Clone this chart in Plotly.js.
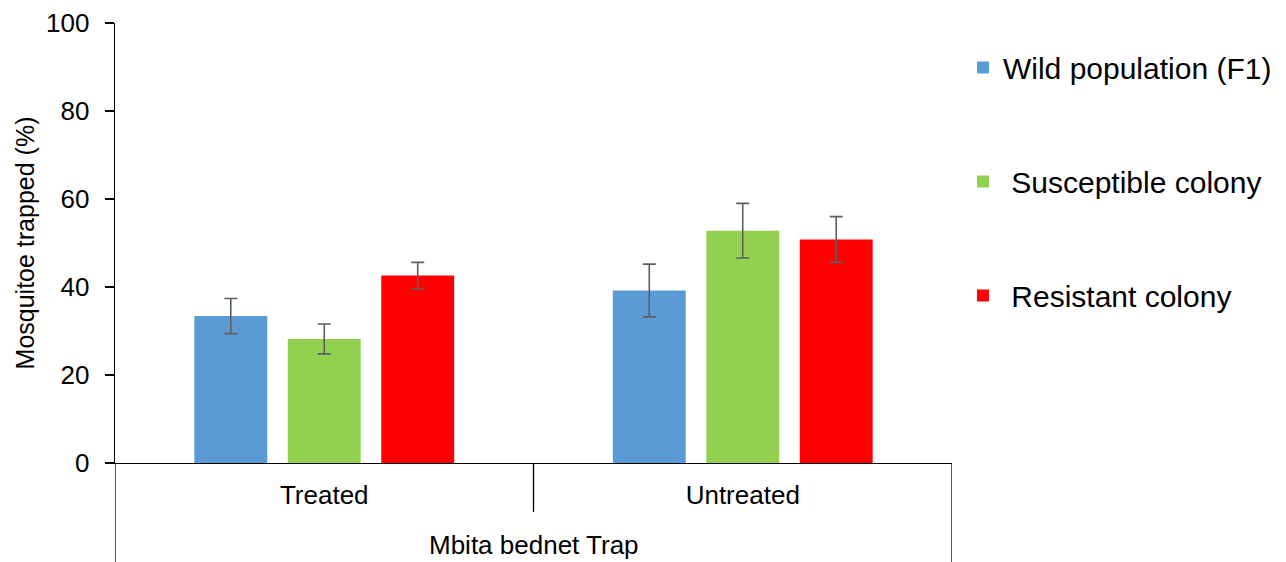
<!DOCTYPE html>
<html>
<head>
<meta charset="utf-8">
<script src="https://cdn.plot.ly/plotly-3.0.1.min.js"></script>
<style>html,body{margin:0;padding:0;background:#fff;}#chart{width:1286px;height:562px;}</style>
</head>
<body>
<div id="chart"></div>
<script>
var categories = ["Treated", "Untreated"];
var groupLabel = "Mbita bednet Trap";
var seriesNames = ["Wild population (F1)", "\u00a0Susceptible colony", "\u00a0Resistant colony"];
var wildValues = [33.4, 39.2];
var wildErrors = [4.0, 6.0];
var suscValues = [28.2, 52.8];
var suscErrors = [3.4, 6.2];
var resValues = [42.6, 50.8];
var resErrors = [3.0, 5.2];
var colors = ["#5B9BD5", "#92D050", "#FF0000"];
var yTicks = [0, 20, 40, 60, 80, 100];

var font = "Arial, 'Liberation Sans', sans-serif";
var vals = [wildValues, suscValues, resValues];
var errs = [wildErrors, suscErrors, resErrors];

var data = vals.map(function (v, i) {
  return {
    type: "bar",
    x: categories,
    y: v,
    name: seriesNames[i],
    legendgroup: "g" + i,
    marker: { color: colors[i] },
    error_y: { type: "data", array: errs[i], visible: true, color: "#5f5f5f", thickness: 1.6, width: 6.5 }
  };
});

var shapes = [
  { type: "line", xref: "x", yref: "paper", x0: -0.5, x1: -0.5, y0: 0, y1: -0.23, line: { color: "#000", width: 1.3 } },
  { type: "line", xref: "x", yref: "paper", x0: 0.5, x1: 0.5, y0: 0, y1: -0.111, line: { color: "#000", width: 1.3 } },
  { type: "line", xref: "x", yref: "paper", x0: 1.5, x1: 1.5, y0: 0, y1: -0.23, line: { color: "#000", width: 1.3 } }
];

var layout = {
  width: 1286,
  height: 562,
  margin: { l: 115, r: 334, t: 23, b: 99, autoexpand: false },
  paper_bgcolor: "#fff",
  plot_bgcolor: "#fff",
  font: { family: font, color: "#000" },
  barmode: "group",
  bargap: 0.33,
  bargroupgap: 0.22,
  showlegend: true,
  legend: {
    x: 1.0131, xanchor: "left", y: 0.958, yanchor: "top",
    font: { size: 30, family: font, color: "#000" },
    tracegroupgap: 72,
    bgcolor: "rgba(0,0,0,0)"
  },
  xaxis: {
    type: "category",
    range: [-0.5, 1.5],
    showline: true, linecolor: "#000", linewidth: 1.3,
    ticks: "", showgrid: false, zeroline: false,
    tickfont: { size: 26, family: font, color: "#000" },
    ticklabelstandoff: 8,
    automargin: false,
    fixedrange: true
  },
  yaxis: {
    range: [0, 100],
    tickvals: yTicks,
    ticktext: yTicks.map(String),
    showline: true, linecolor: "#000", linewidth: 1.3,
    ticks: "outside", ticklen: 9, tickcolor: "#000", tickwidth: 1.3,
    showgrid: false, zeroline: false,
    tickfont: { size: 26, family: font, color: "#000" },
    ticklabelstandoff: 10,
    title: { text: "Mosquitoe trapped (%)", font: { size: 25, family: font, color: "#000" }, standoff: 4 },
    automargin: false,
    fixedrange: true
  },
  shapes: shapes,
  annotations: [
    { text: groupLabel, xref: "paper", yref: "paper", x: 0.5, y: -0.186, xanchor: "center", yanchor: "middle", showarrow: false, font: { size: 26, family: font, color: "#000" } }
  ]
};

Plotly.newPlot("chart", data, layout, { staticPlot: true, displayModeBar: false });
</script>
</body>
</html>
